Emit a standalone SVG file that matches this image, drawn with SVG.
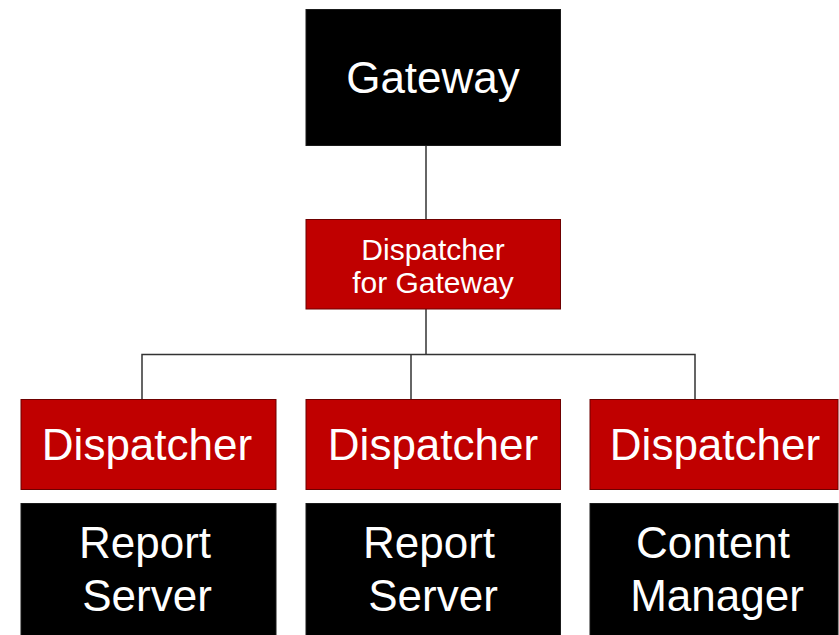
<svg xmlns="http://www.w3.org/2000/svg" width="839" height="635" viewBox="0 0 839 635">
<style>
.blk{fill:#000;stroke:#1a1a1a;stroke-width:1}
.red{fill:#C00000;stroke:#6e0000;stroke-width:1}
text{font-family:"Liberation Sans",Arial,sans-serif;fill:#fff;text-anchor:middle}
.big{font-size:44px}
.mid{font-size:30px}
.con{stroke:#333;stroke-width:1.5;fill:none}
</style>
<rect width="839" height="635" fill="#fff"/>
<g id="connectors">
<line class="con" x1="426" y1="146" x2="426" y2="219"/>
<polyline class="con" points="426,309 426,354.5"/>
<polyline class="con" points="142,399 142,354.5 695,354.5 695,399"/>
<line class="con" x1="411" y1="354.5" x2="411" y2="399"/>
</g>
<g id="gateway">
<rect class="blk" x="306" y="9.5" width="254.5" height="136"/>
<text class="big" x="433" y="93">Gateway</text>
</g>
<g id="dispatcher-gateway">
<rect class="red" x="306" y="219.5" width="254.5" height="89.5"/>
<text class="mid" x="433" y="260">Dispatcher</text>
<text class="mid" x="433" y="293">for Gateway</text>
</g>
<g id="dispatcher-1">
<rect class="red" x="21" y="399.5" width="255" height="90"/>
<text class="big" x="147" y="460">Dispatcher</text>
</g>
<g id="report-server-1">
<rect class="blk" x="21" y="503.5" width="255" height="132"/>
<text class="big" x="145" y="558">Report</text>
<text class="big" x="147" y="611">Server</text>
</g>
<g id="dispatcher-2">
<rect class="red" x="306" y="399.5" width="254.5" height="90"/>
<text class="big" x="433" y="460">Dispatcher</text>
</g>
<g id="report-server-2">
<rect class="blk" x="306" y="503.5" width="254.5" height="132"/>
<text class="big" x="429" y="558">Report</text>
<text class="big" x="433" y="611">Server</text>
</g>
<g id="dispatcher-3">
<rect class="red" x="590" y="399.5" width="248" height="90"/>
<text class="big" x="715" y="460">Dispatcher</text>
</g>
<g id="content-manager">
<rect class="blk" x="590" y="503.5" width="248" height="132"/>
<text class="big" x="713" y="558">Content</text>
<text class="big" x="717" y="611">Manager</text>
</g>
</svg>
